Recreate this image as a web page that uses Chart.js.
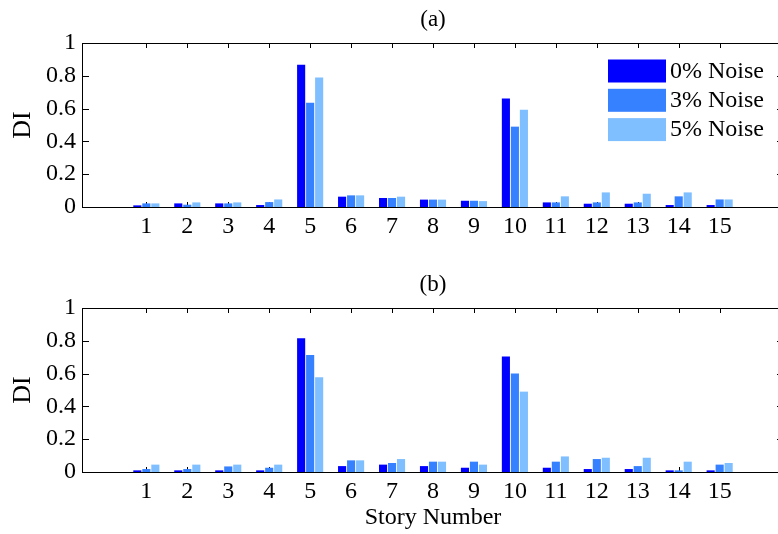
<!DOCTYPE html>
<html>
<head>
<meta charset="utf-8">
<script src="https://cdn.jsdelivr.net/npm/chart.js@4.4.1/dist/chart.umd.min.js"></script>
<style>
  body { margin: 0; background: #fff; overflow: hidden; width: 778px; height: 534px; }
  canvas { position: absolute; left: 0; }
  #chartA { top: 0; }
  #chartB { top: 265px; }
</style>
</head>
<body>
<canvas id="chartA" width="790" height="240"></canvas>
<canvas id="chartB" width="790" height="269"></canvas>
<script>
// Story numbers and tick values
const stories = [1, 2, 3, 4, 5, 6, 7, 8, 9, 10, 11, 12, 13, 14, 15];
const yTicks = [0, 0.2, 0.4, 0.6, 0.8, 1];
const seriesNames = ["0% Noise", "3% Noise", "5% Noise"];
const seriesColors = ["#0000ff", "#3681ff", "#80bfff"];

// (a)
const a0 = [0.01, 0.022, 0.022, 0.012, 0.868, 0.063, 0.055, 0.045, 0.038, 0.662, 0.028, 0.02, 0.02, 0.012, 0.012];
const a3 = [0.022, 0.014, 0.022, 0.03, 0.636, 0.071, 0.055, 0.045, 0.038, 0.49, 0.028, 0.028, 0.028, 0.065, 0.046];
const a5 = [0.022, 0.028, 0.028, 0.046, 0.79, 0.071, 0.063, 0.045, 0.036, 0.593, 0.065, 0.089, 0.081, 0.089, 0.046];

// (b)
const b0 = [0.01, 0.01, 0.01, 0.01, 0.816, 0.036, 0.045, 0.036, 0.026, 0.704, 0.026, 0.018, 0.018, 0.01, 0.01];
const b3 = [0.018, 0.018, 0.034, 0.026, 0.713, 0.071, 0.055, 0.063, 0.063, 0.601, 0.063, 0.079, 0.036, 0.01, 0.045];
const b5 = [0.045, 0.045, 0.045, 0.045, 0.577, 0.071, 0.079, 0.063, 0.045, 0.49, 0.095, 0.087, 0.087, 0.063, 0.055];

const FONT = "Liberation Serif";

// inward ticks go behind the bars, the box goes on top (matlab style)
const axisBox = {
    id: "axisBox",
    beforeDatasetsDraw(chart) {
        const { ctx, chartArea: a, scales: { x, y } } = chart;
        ctx.save();
        ctx.strokeStyle = "#000";
        ctx.lineWidth = 1;
        ctx.beginPath();
        stories.forEach(s => {
            const px = Math.round(x.getPixelForValue(s)) + 0.5;
            ctx.moveTo(px, a.top);
            ctx.lineTo(px, a.top + 5);
            ctx.moveTo(px, a.bottom);
            ctx.lineTo(px, a.bottom - 5);
        });
        yTicks.forEach(v => {
            const py = Math.round(y.getPixelForValue(v)) + 0.5;
            ctx.moveTo(a.left, py);
            ctx.lineTo(a.left + 7, py);
            ctx.moveTo(a.right, py);
            ctx.lineTo(a.right - 7, py);
        });
        ctx.stroke();
        ctx.restore();
    },
    afterDatasetsDraw(chart) {
        const { ctx, chartArea: a } = chart;
        ctx.save();
        ctx.strokeStyle = "#000";
        ctx.lineWidth = 1;
        ctx.strokeRect(Math.round(a.left) + 0.5, Math.round(a.top) + 0.5,
            Math.round(a.right - a.left), Math.round(a.bottom - a.top));
        ctx.restore();
    }
};

// legend inside plot (a)
const noiseLegend = {
    id: "noiseLegend",
    afterDraw(chart, args, opts) {
        if (!opts.show) return;
        const ctx = chart.ctx;
        ctx.save();
        ctx.font = "24px " + FONT;
        ctx.textBaseline = "middle";
        chart.data.datasets.forEach((ds, i) => {
            const top = 59.5 + i * 29.3;
            ctx.fillStyle = ds.backgroundColor;
            ctx.fillRect(608, top, 58, 23);
            ctx.fillStyle = "#000";
            ctx.fillText(ds.label, 670, top + 12);
        });
        ctx.restore();
    }
};

function makeChart(id, title, d0, d3, d5, canvasH, showLegend, xTitle) {
    const sets = [d0, d3, d5];
    return new Chart(document.getElementById(id), {
        type: "bar",
        data: {
            datasets: sets.map((vals, i) => ({
                label: seriesNames[i],
                data: stories.map((s, k) => ({ x: s, y: vals[k] })),
                backgroundColor: seriesColors[i],
                borderWidth: 0,
                categoryPercentage: 0.66,
                barPercentage: 0.9
            }))
        },
        options: {
            responsive: false,
            animation: false,
            layout: { padding: { left: 0, right: 6, top: 0, bottom: 0 } },
            plugins: {
                legend: { display: false },
                tooltip: { enabled: false },
                title: {
                    display: true,
                    text: title,
                    fullSize: false,
                    color: "#000",
                    font: { family: FONT, size: 23, weight: "normal" },
                    padding: { top: 6, bottom: 9.4 }
                },
                noiseLegend: { show: showLegend }
            },
            scales: {
                x: {
                    type: "linear",
                    min: 0,
                    max: 16,
                    afterBuildTicks: s => { s.ticks = stories.map(v => ({ value: v })); },
                    afterFit: s => { s.height = canvasH - 207; },
                    grid: { display: false, drawTicks: false },
                    border: { display: false },
                    ticks: {
                        autoSkip: false,
                        maxRotation: 0,
                        padding: 5,
                        color: "#000",
                        font: { family: FONT, size: 24 },
                        callback: v => String(v)
                    },
                    title: {
                        display: !!xTitle,
                        text: xTitle || "",
                        color: "#000",
                        font: { family: FONT, size: 24 },
                        padding: { top: 0, bottom: 2 }
                    }
                },
                y: {
                    min: 0,
                    max: 1,
                    afterBuildTicks: s => { s.ticks = yTicks.map(v => ({ value: v })); },
                    afterFit: s => { s.width = 82; },
                    grid: { display: false, drawTicks: false },
                    border: { display: false },
                    ticks: {
                        padding: 6,
                        color: "#000",
                        font: { family: FONT, size: 24 },
                        callback: v => String(Number(v.toFixed(1)))
                    },
                    title: {
                        display: true,
                        text: "DI",
                        color: "#000",
                        font: { family: FONT, size: 26 },
                        padding: { top: 8 }
                    }
                }
            }
        },
        plugins: [axisBox, noiseLegend]
    });
}

makeChart("chartA", "(a)", a0, a3, a5, 240, true, null);
makeChart("chartB", "(b)", b0, b3, b5, 269, false, "Story Number");
</script>
</body>
</html>
